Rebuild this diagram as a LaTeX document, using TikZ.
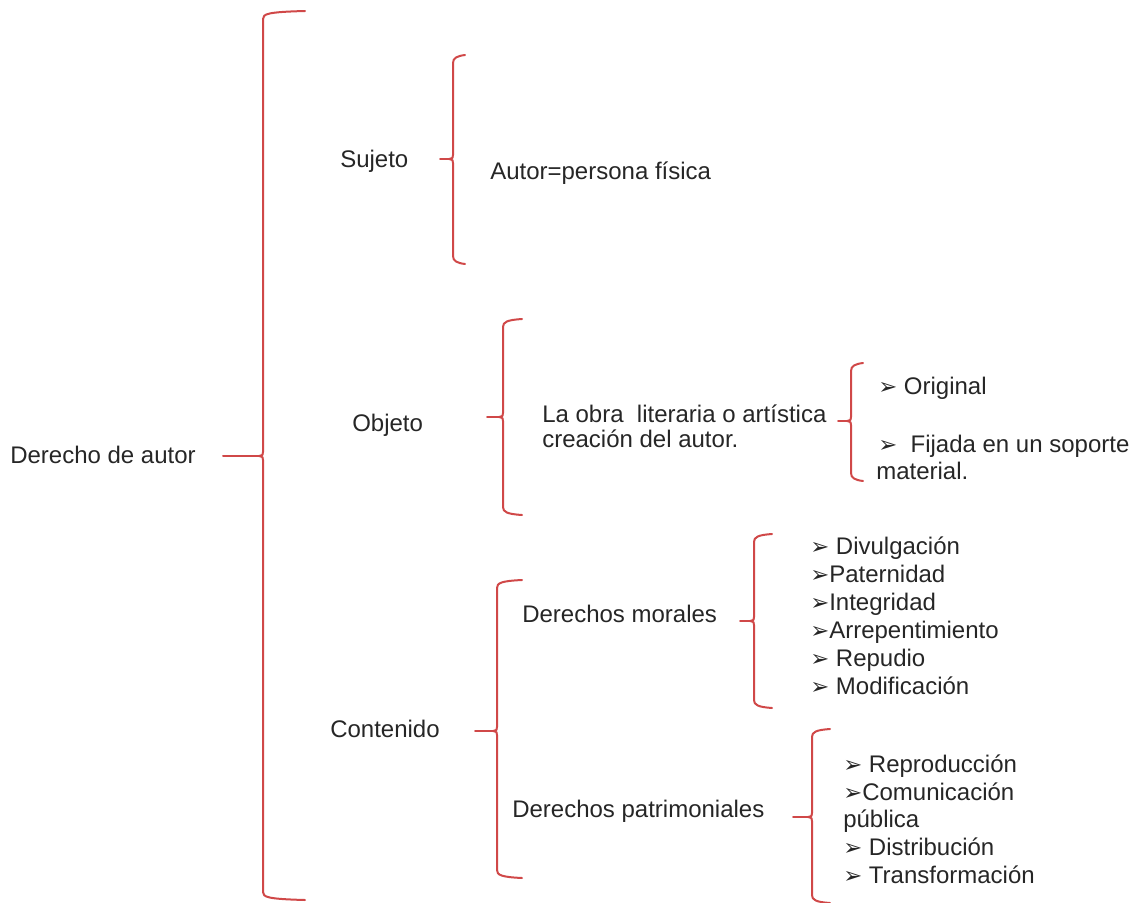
\documentclass[tikz,border=0pt]{standalone}
\usepackage{fontspec}
\setmainfont{Liberation Sans}
\newfontfamily\dejavu{DejaVu Sans}
\definecolor{rojo}{RGB}{208,72,72}
\tikzset{
  llave/.style={draw=rojo, line width=1.5pt, line cap=round},
  texto/.style={anchor=base west, inner sep=0pt, text=black!85, font=\fontsize{18}{21}\selectfont},
}
\newcommand{\flecha}{{\dejavu\fontsize{17}{17}\selectfont ➢}}
% #1 x, #2 top, #3 middle, #4 bottom, #5 right end, #6 left end of the tick
\newcommand{\llaveizq}[6]{%
  \draw[llave] (#5,{#2-3}) .. controls ({#1+4},{#2-2}) and (#1,#2) .. (#1,{#2+5})
    -- (#1,{#3-4}) .. controls (#1,{#3-1}) .. ({#1-4},#3)
    .. controls (#1,{#3+1}) .. (#1,{#3+4})
    -- (#1,{#4-5}) .. controls (#1,#4) and ({#1+4},{#4+2}) .. (#5,{#4+3});
  \draw[llave] (#6,#3) -- ({#1-4},#3);
}
\begin{document}
\begin{tikzpicture}[x=0.75pt,y=-0.75pt]
\useasboundingbox (0,0) rectangle (1136,903);

% root
\node[texto] (raiz) at (10,463) {Derecho de autor};
\llaveizq{263}{14}{456}{897}{305}{223}

% sujeto
\node[texto] (sujeto) at (340,167) {Sujeto};
\llaveizq{453}{58}{159}{261}{465}{440}
\node[texto] (autor) at (490,179) {Autor=persona física};

% objeto
\node[texto] (objeto) at (352,431) {Objeto};
\llaveizq{503}{322}{417}{512}{522}{487}
\node[texto] (obra1) at (542,422) {La obra \ literaria o artística};
\node[texto] (obra2) at (542,447) {creación del autor.};
\llaveizq{851}{366}{421}{478}{863}{838}
\node[texto] (original) at (878,394) {\flecha\ Original};
\node[texto] (fijada) at (878,452) {\flecha\ \ Fijada en un soporte};
\node[texto] (material) at (876,479) {material.};

% contenido
\node[texto] (contenido) at (330,737) {Contenido};
\llaveizq{497}{583}{731}{875}{522}{475}
\node[texto] (morales) at (522,622) {Derechos morales};
\node[texto] (patrim) at (512,817) {Derechos patrimoniales};

% derechos morales
\llaveizq{754}{537}{621}{705}{772}{740}
\node[texto] (divulg) at (810,554) {\flecha\ Divulgación};
\node[texto] (patern) at (810,582) {\flecha Paternidad};
\node[texto] (integr) at (810,610) {\flecha Integridad};
\node[texto] (arrep) at (810,638) {\flecha Arrepentimiento};
\node[texto] (repud) at (810,666) {\flecha\ Repudio};
\node[texto] (modif) at (810,694) {\flecha\ Modificación};

% derechos patrimoniales
\llaveizq{812}{732}{817}{900}{830}{793}
\node[texto] (reprod) at (843,772) {\flecha\ Reproducción};
\node[texto] (comun) at (843,800) {\flecha Comunicación};
\node[texto] (publica) at (843,827) {pública};
\node[texto] (distrib) at (843,855) {\flecha\ Distribución};
\node[texto] (transf) at (843,883) {\flecha\ Transformación};
\end{tikzpicture}
\end{document}
